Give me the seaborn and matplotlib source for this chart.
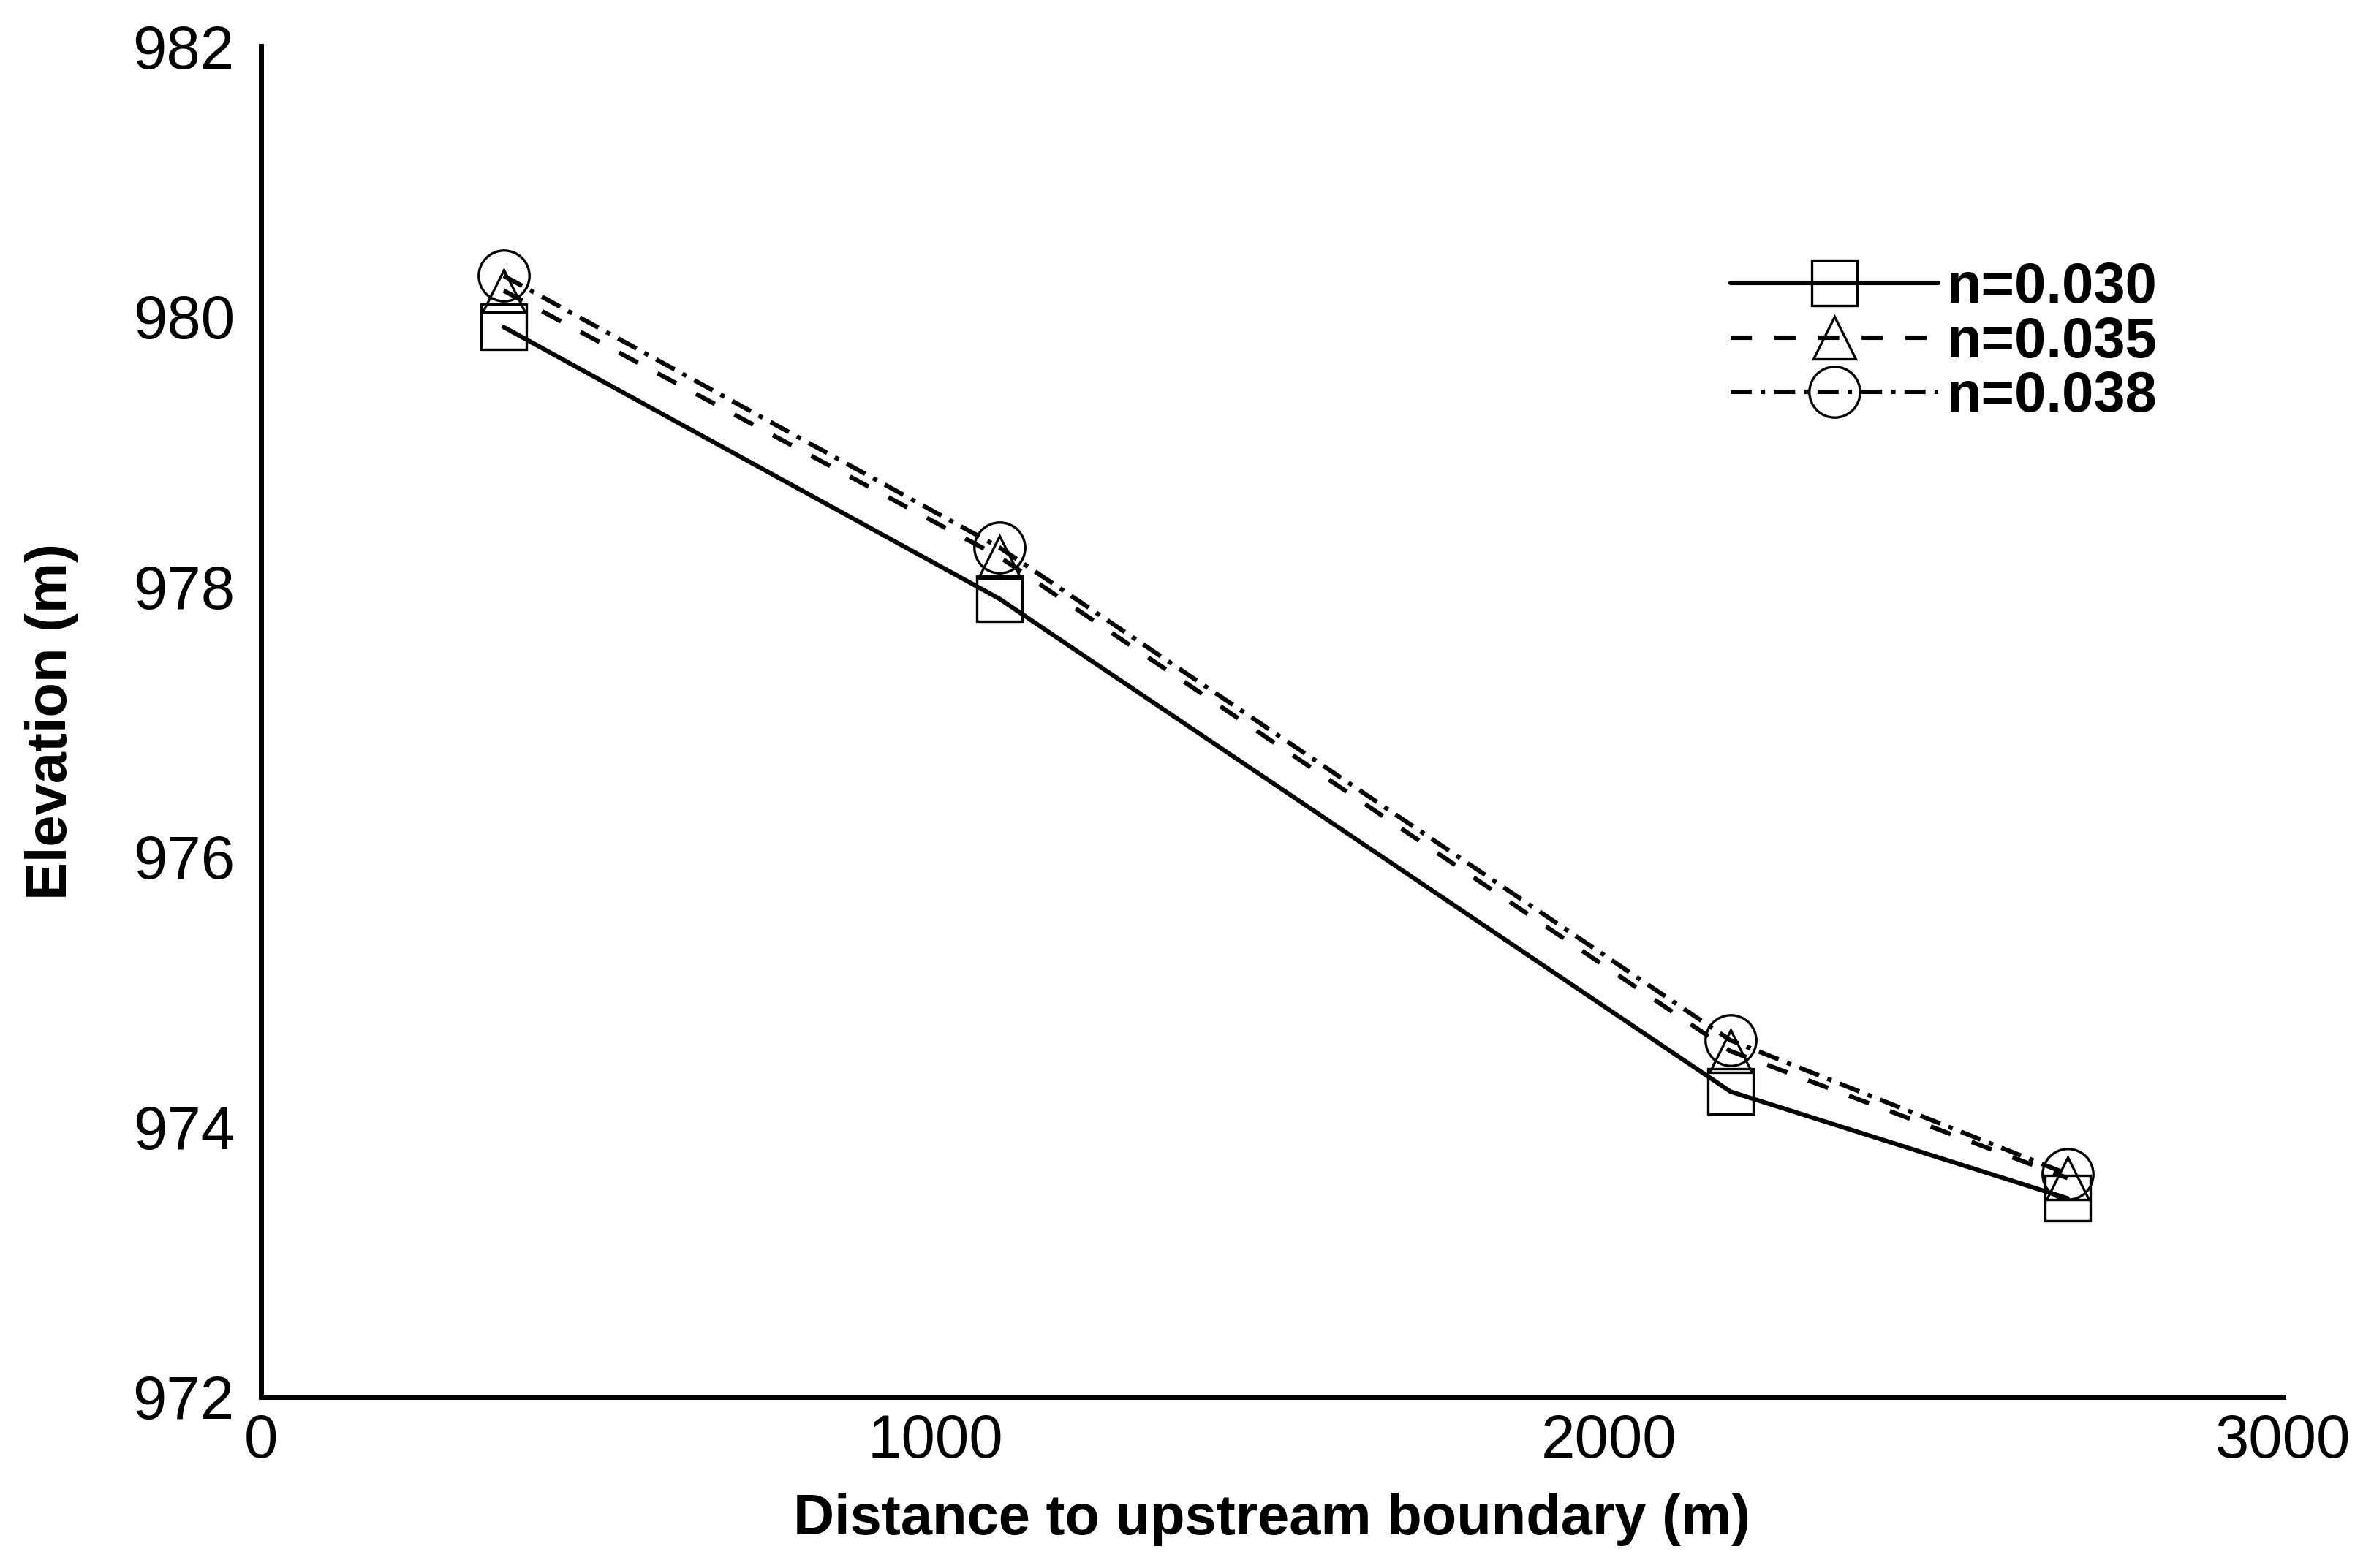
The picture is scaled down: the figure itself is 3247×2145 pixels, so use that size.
"""Water surface profile for three Manning roughness values."""
import matplotlib

matplotlib.use("Agg")
import matplotlib.pyplot as plt
import seaborn as sns

# distance to upstream boundary (m)
distance = [360, 1095, 2180, 2680]
# water surface elevation (m) per roughness
elev_030 = [979.92, 977.91, 974.26, 973.47]
elev_035 = [980.19, 978.22, 974.56, 973.62]
elev_038 = [980.30, 978.29, 974.64, 973.65]

series_labels = ["n=0.030", "n=0.035", "n=0.038"]
x_ticks = [0, 1000, 2000, 3000]
y_ticks = [972, 974, 976, 978, 980, 982]

sns.set_theme(style="white")
plt.rcParams["font.family"] = ["Liberation Sans", "DejaVu Sans"]
plt.rcParams["lines.scale_dashes"] = False
plt.rcParams["text.color"] = "black"
plt.rcParams["axes.labelcolor"] = "black"

fig = plt.figure(figsize=(16.24, 10.725), dpi=200)
ax = fig.add_axes([0.1099, 0.1091, 0.9615 - 0.1099, 0.9706 - 0.1091])

common = dict(color="black", markerfacecolor="none", markeredgecolor="black",
              markeredgewidth=1.2, linewidth=2.2, ax=ax)
sns.lineplot(x=distance, y=elev_030, marker="s", markersize=22,
             linestyle="-", label=series_labels[0], **common)
sns.lineplot(x=distance, y=elev_035, marker="^", markersize=21,
             linestyle=(0, (10.5, 11)), label=series_labels[1], **common)
sns.lineplot(x=distance, y=elev_038, marker="o", markersize=25,
             linestyle=(0, (10.4, 4.4, 2.2, 4.4)), label=series_labels[2], **common)

ax.set_xlim(0, 3000)
ax.set_ylim(972, 982)
ax.set_xticks(x_ticks)
ax.set_yticks(y_ticks)
ax.tick_params(axis="both", direction="in", length=13.8, width=2.5,
               color="black", labelsize=30, labelcolor="black")
ax.tick_params(axis="x", pad=8)
ax.tick_params(axis="y", pad=13)

for side in ["top", "right"]:
    ax.spines[side].set_visible(False)
for side in ["left", "bottom"]:
    ax.spines[side].set_linewidth(2.5)
    ax.spines[side].set_color("black")

ax.set_xlabel("Distance to upstream boundary (m)", fontsize=28,
              fontweight="bold", labelpad=11)
ax.set_ylabel("Elevation (m)", fontsize=28, fontweight="bold", labelpad=27)

leg = ax.legend(loc="center left", bbox_to_anchor=(0.7288, 0.7817),
                bbox_transform=fig.transFigure, frameon=False,
                prop={"weight": "bold", "size": 28}, handlelength=3.65,
                handletextpad=0.15, labelspacing=0.02, borderpad=0,
                borderaxespad=0)

fig.savefig("out.png", dpi=200, facecolor="white")
